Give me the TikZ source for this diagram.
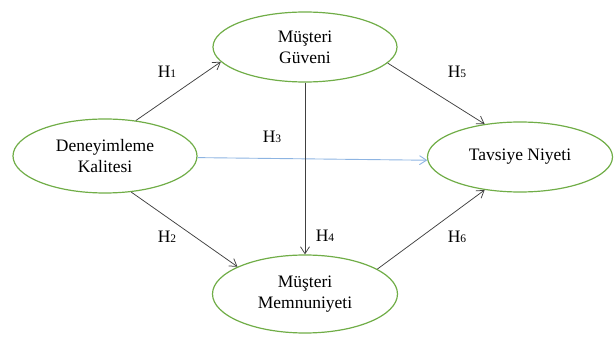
\documentclass[tikz,border=0pt]{standalone}
\usepackage{fontspec}
\setmainfont{Liberation Serif}
\usetikzlibrary{shapes.geometric,arrows.meta}

\definecolor{ovalgreen}{HTML}{70AD47}
\definecolor{linkgray}{HTML}{404040}
\definecolor{linkblue}{HTML}{8DB4E2}

\tikzset{
  construct/.style={ellipse, draw=ovalgreen, line width=1.2pt, inner sep=0pt,
    align=center, font=\fontsize{17.5}{21}\selectfont},
  path/.style={draw=linkgray, line width=0.75pt,
    -{Straight Barb[length=7pt,width=9pt]}},
  bluepath/.style={draw=linkblue, line width=0.9pt,
    -{Straight Barb[length=7pt,width=9pt]}},
  hyp/.style={font=\fontsize{17.5}{21}\selectfont, inner sep=0pt}
}
\newcommand{\hyplabel}[1]{H\raisebox{-0.5pt}{\fontsize{11.5}{12}\selectfont #1}}

\begin{document}
\begin{tikzpicture}[x=1pt,y=-1pt]
  \useasboundingbox (0,0) rectangle (614,339);

  % constructs of the model
  \node[construct, minimum width=184pt, minimum height=74pt] (dk) at (105,156) {Deneyimleme\\Kalitesi};
  \node[construct, minimum width=184pt, minimum height=70pt] (mg) at (305,47) {Müşteri\\Güveni};
  \node[construct, minimum width=185pt, minimum height=78pt] (mm) at (305,294) {Müşteri\\Memnuniyeti};
  \node[construct, minimum width=185pt, minimum height=70pt] (tn) at (520,157) {Tavsiye Niyeti};

  % hypothesised paths
  \draw[path] (dk.49) -- (mg.190);
  \draw[path] (dk.-54) -- (mm.158);
  \draw[bluepath] (dk.-1) -- (tn.182);
  \draw[path] (mg.south) -- (mm.north);
  \draw[path] (mg.-11) -- (tn.137);
  \draw[path] (mm.19) -- (tn.223);

  % path labels
  \node[hyp] (h1) at (167,72) {\hyplabel{1}};
  \node[hyp] (h2) at (167,237) {\hyplabel{2}};
  \node[hyp] (h3) at (272,137) {\hyplabel{3}};
  \node[hyp] (h4) at (325,236) {\hyplabel{4}};
  \node[hyp] (h5) at (457,72) {\hyplabel{5}};
  \node[hyp] (h6) at (457,237) {\hyplabel{6}};
\end{tikzpicture}
\end{document}
